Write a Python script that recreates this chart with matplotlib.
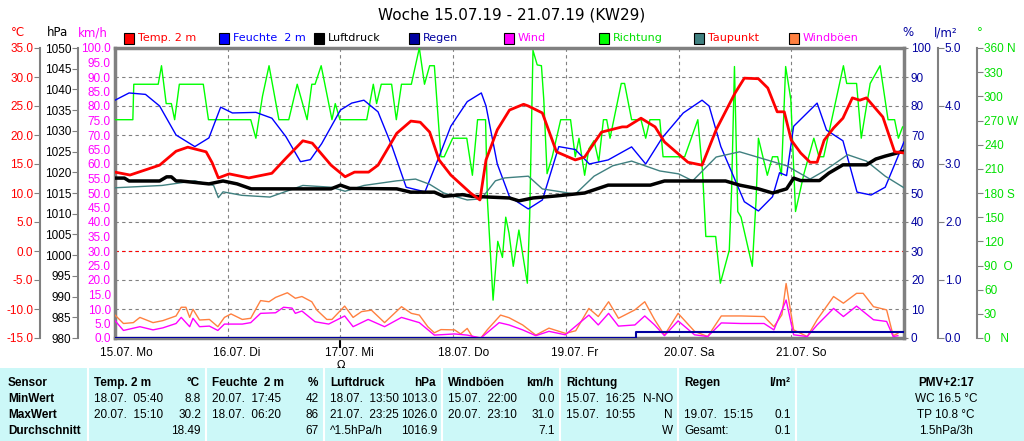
import matplotlib
matplotlib.use("Agg")
import matplotlib.pyplot as plt
from matplotlib.patches import Rectangle
import numpy as np

plt.rcParams['font.family'] = ['Liberation Sans Narrow', 'Liberation Sans', 'DejaVu Sans']

# ---------------- data (hours since 15.07. 00:00) ----------------
temperature = [(0,13.6),(3.2,13.1),(9.5,14.8),(13,17.2),(15.5,17.9),(19.4,17.1),(20.7,15.2),(22,12.6),(24.3,13.3),(28.5,12.6),
    (33.4,13.4),(36.4,16.0),(40,19.0),(42,18.6),(46,14.8),(49,12.8),(51,13.6),(54,13.6),(56,14.8),(60,20.3),
    (63,22.4),(65,22.2),(67,20.5),(69,15.7),(71.5,13.1),(75.7,10.0),(77.7,8.8),(79,15.7),(81.4,20.9),(84,24.3),
    (87,25.3),(88,25.0),(91,23.8),(94,17.1),(98,15.7),(100,16.2),(103.6,20.5),(108,21.4),(109,21.4),(112,22.9),
    (115,21.4),(117,18.8),(119,17.4),(122,15.3),(125,14.8),(128,20.9),(132,27.2),(134,29.8),(137,29.7),(139,28.1),
    (141,24.0),(142.5,24.0),(144,19.1),(146,16.9),(148,15.3),(149.5,15.3),(151,19.1),(153,21.2),(155,22.9),(157,26.4),
    (158.6,26.0),(160,26.4),(163.5,23.1),(166,17.1),(168,16.9)]
humidity = [(0,82),(3,84.5),(6.5,84),(9.5,80),(13,70),(17,66),(20,69),(22.5,79.6),(25,77.6),(30,77.8),
    (33.4,75.8),(36.4,69.4),(39.5,60.8),(41.6,61.5),(44,67),(48,78.6),(50.4,81),(53,82),(56,78),(59,66),
    (62,52),(66,50.4),(69,62.5),(71.5,73),(75,81.5),(78,84.5),(79,80),(81.4,60),(84,48.7),(88,44.5),
    (91,47.6),(94.5,66),(98,65),(101,60),(105,61.4),(110,65.9),(113,60),(116.5,69),(121,77.6),(125,82),
    (126.5,80),(129,66),(134,47),(137,43.8),(140,48.7),(141.5,57),(143,56),(144.5,73),(149.5,81),(151.5,71.7),
    (155,68),(158,50.3),(161,49.3),(164,52),(168,67.6)]
pressure = [(0,1018.6),(2,1018.6),(3,1017.9),(9.5,1017.9),(11,1018.9),(12,1018.9),(13,1017.9),(14,1017.9),(20,1017.2),(23,1017.9),
    (26,1017.2),(29,1016),(42,1016),(46,1016),(48,1016.9),(50,1016.1),(60,1016),(63,1015.2),(68,1015.2),(70,1014.2),
    (74,1014.6),(76,1014.2),(84,1013.8),(86,1013.1),(89,1013.8),(94,1014.3),(100,1015),(105,1016.9),(114,1016.9),(117,1017.9),
    (126,1017.9),(130,1017.9),(133,1016.9),(137,1016),(140,1015),(143,1016),(144.5,1018.6),(146,1018.0),(150,1018.0),(152,1019.8),
    (155,1021.8),(160,1021.8),(162,1023.2),(164,1023.9),(168,1025.1)]
dewpoint = [(0,10.9),(10,11.3),(17,12.1),(21,11.3),(22,9.2),(23,10.2),(27,9.6),(33,9.3),(40,11.3),(46,11.0),
    (49,10.3),(53,11.3),(60,12.1),(64,12.4),(67,11.5),(70,10.0),(75,8.8),(78,9.0),(81,12.1),(83,12.6),
    (88,12.9),(91,10.7),(95,10.2),(98,9.8),(102,12.9),(106,14.7),(110,15.5),(116,13.8),(120,13.3),(123,12.1),
    (128,16.2),(133,17.1),(138,15.9),(143,14.7),(148,12.4),(151,13.8),(156,16.6),(160,15.5),(164,12.9),(168,10.9)]
direction = [(0,271),(3.8,271),(4.0,315),(9.2,315),(9.9,338),(10.9,291),(12.0,291),(12.7,271),(13.7,315),(18.8,315),
    (19.9,271),(28.9,271),(30.0,248),(31.4,300),(32.8,338),(34.9,271),(37.0,271),(38.8,315),(40.9,271),(41.9,315),
    (42.6,315),(43.9,338),(46.2,271),(46.9,291),(47.9,271),(53.6,271),(55.0,315),(55.7,291),(56.7,315),(58.9,315),
    (59.9,271),(61.0,315),(63.1,315),(64.8,360),(65.9,315),(67.0,338),(68.0,338),(69.4,225),(70.1,225),(71.9,248),
    (74.9,248),(76.1,202),(77.2,271),(78.9,271),(79.3,171),(80.5,47),(81.5,120),(82.5,100),(83.2,150),
    (83.9,130),(84.8,89),(86,134),(87,97),(87.8,68),(88.3,151),(89,357),(89.9,339),(90.8,338),(91.3,296),
    (92,204),(93.1,225),(94.9,271),(97,271),(98,225),(98.8,248),(100,202),(100.9,235),(102,245),(103,219),
    (104,271),(104.7,271),(105.4,248),(107.8,316),(108.5,316),(110,271),(112,271),(113,248),(113.9,271),(116,271),
    (116.7,225),(121.3,225),(124.1,271),(125.1,207),(125.8,126),(127.9,126),(128.9,68),(130.8,109),(131.3,186),(131.9,337),
    (132.6,157),(133.3,150),(135.7,89),(136.5,171),(137,248),(138.9,202),(140,225),(141.1,225),(141.9,202),(142.8,337),
    (143.9,296),(144.9,157),(146.7,204),(148.8,248),(149.9,225),(150.9,225),(155.1,338),(155.8,316),(157.9,316),(158.9,248),
    (160.8,316),(162.9,338),(164.6,271),(166,271),(166.8,248),(167.7,262)]
gusts = [(0,7.9),(1.8,5.0),(3.9,5.3),(5.3,7.1),(8.1,5.3),(10.2,6),(13,7.6),(14.1,10.6),(15.1,10.6),(15.9,7.1),
    (16.6,9.9),(18,6.2),(20.1,6.4),(21.9,3.9),(23.3,7.1),(24.7,8.3),(27.1,6.4),(28.9,6.8),(31,12.9),(32.8,12.5),
    (34.2,14),(36.7,15.6),(38.4,13.7),(39.8,14.3),(41.9,12.5),(43,9.6),(45.1,6.4),(46.2,6.4),(48.9,11),(50.7,7.1),
    (52.5,9.1),(54.6,9.6),(57.4,5.3),(61,10.8),(63.1,8.5),(64.8,7.9),(66.6,3.9),(68,1.8),(69.4,2.9),(72.3,2.8),
    (73.6,1.4),(75,3.3),(76.1,0.4),(77.9,0),(79.3,2.9),(82.1,7.9),(83.9,7),(86.8,4.5),(89.6,1),(92.4,3.4),
    (95.9,1.6),(98.1,2.5),(100.9,10.2),(102.9,7.4),(105.1,12.5),(107.2,6.8),(110.7,9.7),(112.8,12.5),(114.9,6.3),(117,1),
    (119.9,8.5),(123.4,2.3),(126.2,0.5),(129.1,7.6),(133.3,7.6),(138.2,7.4),(140.3,3.9),(142,8),(142.9,18.8),(144.5,2.8),
    (147.4,0.5),(149.5,6.3),(153,14.3),(155.1,12),(157.9,15.4),(159.3,15.4),(161.5,10.8),(164.3,9.7),(165.7,0.8),(166.7,1.6)]
wind = [(0,6.0),(1.8,2.6),(5.3,3.9),(8.1,2.8),(10.2,3.5),(13,5.0),(14.1,7.1),(15.9,3.9),(16.6,6.8),(18,3.9),
    (20.1,4.1),(21.9,2.6),(23.3,4.8),(27.1,4.8),(28.9,5.3),(31,8.5),(34.2,8.7),(35.9,10.6),(37.7,10.3),(38.4,8.5),
    (39.8,9.3),(42.6,5.6),(45.5,4.8),(48.9,7.6),(50.7,3.9),(53.9,6.4),(57.4,3.9),(61,7.1),(64.8,5.3),(68,1.0),
    (72.3,1.4),(75,1.0),(77.9,0),(81.8,5.3),(83.9,4.5),(86.8,2.8),(89.6,0.8),(92.4,2.3),(95.9,1.1),(100.9,7.9),
    (102.9,4.5),(105.1,8.5),(107.2,4.1),(110.7,4.5),(112.8,7.6),(114.9,4.5),(117,0.8),(119.9,5.9),(123.4,1.1),(126.2,0.5),
    (129.1,5.2),(133.3,5.0),(138.2,5.0),(140.3,2.8),(142.9,13.1),(144.5,1.1),(147.4,0.5),(149.5,4.5),(153,10.2),(155.1,7.4),
    (157.9,11),(161.5,6.3),(164.3,5.7),(165.7,0.5),(166.7,0.8)]
rain = [(0,0),(111,0),(111,0.1),(168,0.1)]

day_labels = ["15.07. Mo","16.07. Di","17.07. Mi","18.07. Do","19.07. Fr","20.07. Sa","21.07. So"]
dir_ticks = [0,30,60,90,120,150,180,210,240,270,300,330,360]
dir_labels = ["0   N","30","60","90  O","120","150","180 S","210","240","270 W","300","330","360 N"]

legend_items = [("Temp. 2 m","#ff0000","#ff0000"),("Feuchte  2 m","#0000ff","#0000ff"),("Luftdruck","#000000","#000000"),
    ("Regen","#0000a0","#0000a0"),("Wind","#ff00ff","#ff00ff"),("Richtung","#00ff00","#00e000"),
    ("Taupunkt","#408080","#ff0000"),("Windböen","#ff8040","#ff00ff")]

table_header = ["Sensor","Temp. 2 m","Feuchte  2 m","Luftdruck","Windböen","Richtung","Regen"]
table_units = ["","°C","%","hPa","km/h","",  "l/m²"]
row_names = ["MinWert","MaxWert","Durchschnitt"]
table_dates = [["18.07.  05:40","20.07.  17:45","18.07.  13:50","15.07.  22:00","15.07.  16:25",""],
               ["20.07.  15:10","18.07.  06:20","21.07.  23:25","20.07.  23:10","15.07.  10:55","19.07.  15:15"],
               ["","","^1.5hPa/h","","","Gesamt:"]]
table_values = [["8.8","42","1013.0","0.0","N-NO",""],
                ["30.2","86","1026.0","31.0","N","0.1"],
                ["18.49","67","1016.9","7.1","W","0.1"]]
pmv_lines = ["PMV+2:17","WC 16.5 °C","TP 10.8 °C","1.5hPa/3h"]

# ---------------- figure ----------------
W, H = 1024, 441
fig = plt.figure(figsize=(W/100, H/100), dpi=100)
L, R, T, B = 115, 904, 48, 338
ax = fig.add_axes([L/W, 1-B/H, (R-L)/W, (B-T)/H])
ax.set_xlim(0, 168)
ax.set_ylim(0, 100)
gray = "#808080"
for s in ax.spines.values():
    s.set_color(gray); s.set_linewidth(2.5)
ax.set_xticks([24*i for i in range(7)])
ax.set_xticklabels([])
ax.tick_params(axis='x', length=0)
ax.set_yticks(range(0, 101, 10))
ax.grid(True, color=gray, linestyle=(0, (3, 3)), linewidth=0.8)
ax.axhline(30, color="#ff0000", linestyle=(0, (3, 3)), linewidth=0.8)

FS = 8.5

def mk(ylim, side=None, pos=None, ticks=None, labels=None, color=None, fmt=None):
    a = ax.twinx()
    a.set_ylim(*ylim)
    a.set_xlim(0, 168)
    for s in a.spines.values():
        s.set_visible(False)
    if side is None:
        a.set_yticks([])
    else:
        if side == 'left':
            a.yaxis.tick_left()
        a.spines[side].set_visible(True)
        a.spines[side].set_position(('axes', pos))
        a.spines[side].set_color(gray)
        a.spines[side].set_linewidth(1.5)
        a.set_yticks(ticks)
        a.set_yticklabels(labels if labels is not None else [fmt.format(v) for v in ticks])
        a.tick_params(axis='y', colors=gray, labelsize=FS, length=4, pad=1)
        for t in a.get_yticklabels():
            t.set_color(color)
    return a

def xy(data):
    return [p[0] for p in data], [p[1] for p in data]

a_dir = mk((0, 360), 'right', (977-L)/(R-L), dir_ticks, dir_labels, "#00e000")
a_dir.plot(*xy(direction), color="#00ff00", lw=1)
a_hum = mk((0, 100))
a_hum.plot(*xy(humidity), color="#0000ff", lw=1)
a_dew = mk((-15, 35))
a_dew.plot(*xy(dewpoint), color="#408080", lw=1)
a_wind = mk((0, 100), 'left', 0.0, list(np.arange(0, 100.1, 5)), None, "#ff00ff", "{:.1f}")
a_wind.spines['left'].set_visible(False)
a_wind.tick_params(axis='y', length=0, pad=3)
a_wind.plot(*xy(gusts), color="#ff8040", lw=1)
a_wind.plot(*xy(wind), color="#ff00ff", lw=1)
a_rain = mk((0, 5), 'right', (938-L)/(R-L), [0, 1, 2, 3, 4, 5], None, "#0000a0", "{:.1f}")
a_rain.plot(*xy(rain), color="#0000a0", lw=1.5)
a_p = mk((980, 1050), 'left', (78-L)/(R-L), list(range(980, 1051, 5)), None, "#000000", "{:d}")
a_p.plot(*xy(pressure), color="#000000", lw=2.5)
a_t = mk((-15, 35), 'left', (40-L)/(R-L), list(range(-15, 36, 5)), None, "#ff0000", "{:.1f}")
a_t.plot(*xy(temperature), color="#ff0000", lw=2)

# percent labels on the main axes' right side
ax.yaxis.tick_right()
ax.tick_params(axis='y', colors=gray, labelsize=FS, length=3, pad=2)
for t in ax.get_yticklabels():
    t.set_color("#0000a0")

# x day labels
for i, lab in enumerate(day_labels):
    ax.text(24*i - 3.2, -3.0, lab, ha='left', va='top', fontsize=FS, transform=ax.transData)
ax.plot([48, 48], [-3.0, 0], color='black', lw=1.5, clip_on=False)
ax.text(48, -7.6, "Ω", ha='center', va='top', fontsize=8, family='DejaVu Sans')

# title & unit labels
fig.text(512/W, 1-15/H, "Woche 15.07.19 - 21.07.19 (KW29)", ha='center', va='center', fontsize=11, family='DejaVu Sans')
for x, s, c in [(18, "°C", "#ff0000"), (57, "hPa", "#000000"), (93, "km/h", "#ff00ff"),
                (908, "%", "#0000a0"), (946, "l/m²", "#0000a0"), (980, "°", "#00e000")]:
    fig.text(x/W, 1-33/H, s, ha='center', va='center', fontsize=FS, color=c, family='DejaVu Sans')

# legend
for i, (lab, lc, tc) in enumerate(legend_items):
    x0 = 124 + i*95
    fig.patches.append(Rectangle((x0/W, 1-44/H), 10/W, 11/H, transform=fig.transFigure,
                                 facecolor=lc, edgecolor='black', lw=0.8))
    fig.text((x0+14)/W, 1-38/H, lab, ha='left', va='center', fontsize=8, color=tc, family='DejaVu Sans')

# table
fig.patches.append(Rectangle((0, 0), 1, (H-368)/H, transform=fig.transFigure, facecolor="#ccf8f8", edgecolor='none'))
seps = [88, 206, 324, 442, 560, 678, 796]
for s in seps:
    fig.add_artist(plt.Line2D([s/W, s/W], [0, (H-368)/H], transform=fig.transFigure, color='white', lw=1.5))
rows_y = [383, 399, 415, 431]
fs = 8.5
fig.text(8/W, 1-rows_y[0]/H, "Sensor", fontsize=fs, weight='bold', va='center')
for r, name in enumerate(row_names):
    fig.text(8/W, 1-rows_y[r+1]/H, name, fontsize=fs, weight='bold', va='center')
for c in range(6):
    s, e = seps[c], seps[c+1]
    fig.text((s+6)/W, 1-rows_y[0]/H, table_header[c+1], fontsize=fs, weight='bold', va='center')
    fig.text((e-6)/W, 1-rows_y[0]/H, table_units[c+1], fontsize=fs, weight='bold', va='center', ha='right')
    for r in range(3):
        fig.text((s+6)/W, 1-rows_y[r+1]/H, table_dates[r][c], fontsize=fs, va='center')
        fig.text((e-5)/W, 1-rows_y[r+1]/H, table_values[r][c], fontsize=fs, va='center', ha='right')
for r, t in enumerate(pmv_lines):
    fig.text(946/W, 1-rows_y[r]/H, t, fontsize=fs, va='center', ha='center', weight='bold' if r == 0 else 'normal')

fig.savefig("out.png", dpi=100)
